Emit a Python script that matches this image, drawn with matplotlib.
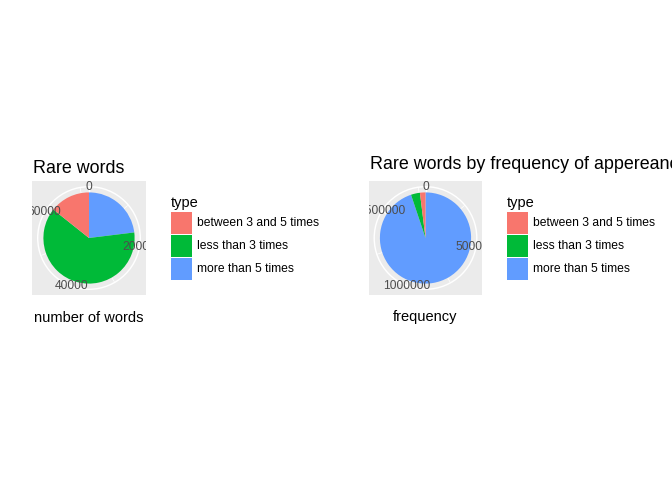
import numpy as np
import matplotlib
matplotlib.use("Agg")
import matplotlib.pyplot as plt
from matplotlib.patches import Circle, Rectangle

plt.rcParams['font.family'] = ['Liberation Sans', 'DejaVu Sans']

# data
types = ["between 3 and 5 times", "less than 3 times", "more than 5 times"]
colors = ["#F8766D", "#00BA38", "#619CFF"]

words_counts = [10300, 45100, 16600]
words_breaks = [0, 20000, 40000, 60000]
words_labels = ["0", "20000", "40000", "60000"]

freq_counts = [35000, 57000, 1698000]
freq_breaks = [0, 500000, 1000000, 1500000]
freq_labels = ["0", "500000", "1000000", "1500000"]

W, H = 672, 480
fig = plt.figure(figsize=(7, 5), dpi=96)
fig.patch.set_facecolor("white")

GREY_TXT = "#4D4D4D"


def px_axes(x0, y0, w, h):
    return fig.add_axes([x0 / W, 1 - (y0 + h) / H, w / W, h / H])


def polar_pie(x0, y0, counts, breaks, labels):
    ax = px_axes(x0, y0, 114, 114)
    total = float(sum(counts))
    # ggplot stacks the first level on top: draw from last to first, clockwise
    vals = counts[::-1]
    cols = colors[::-1]
    ax.pie(vals, colors=cols, startangle=90, counterclock=False, radius=0.4,
           center=(0, 0), frame=True, wedgeprops=dict(linewidth=0, zorder=3))
    ax.set_xlim(-0.5, 0.5)
    ax.set_ylim(-0.5, 0.5)
    ax.set_aspect("auto")
    ax.set_frame_on(True)
    ax.set_facecolor("#EBEBEB")
    for s in ax.spines.values():
        s.set_visible(False)
    ax.set_xticks([])
    ax.set_yticks([])

    # grid: outer circle and theta spokes
    ax.add_patch(Circle((0, 0), 0.45, fill=False, ec="white", lw=1.07, zorder=1))
    step = breaks[1] - breaks[0]
    minors = [b + step / 2 for b in breaks if b + step / 2 < total]
    for b in minors:
        th = 2 * np.pi * b / total
        ax.plot([0, 0.45 * np.sin(th)], [0, 0.45 * np.cos(th)], color="white",
                lw=0.53, zorder=1)
    for b in breaks:
        th = 2 * np.pi * b / total
        ax.plot([0, 0.45 * np.sin(th)], [0, 0.45 * np.cos(th)], color="white",
                lw=1.07, zorder=1)
    for b, lab in zip(breaks, labels):
        th = 2 * np.pi * b / total
        ax.text(0.45 * np.sin(th), 0.45 * np.cos(th), lab, ha="center",
                va="center", fontsize=9, color=GREY_TXT, clip_on=True,
                zorder=5)
    return ax


def legend_block(x0, ytitle):
    fig.text(x0 / W, 1 - ytitle / H, "type", fontsize=11, color="black",
             ha="left", va="baseline")
    key_tops = [212, 235, 258]
    for top, col, lab in zip(key_tops, colors, types):
        fig.patches.append(Rectangle(((x0 + 0.5) / W, 1 - (top + 21.5) / H),
                                     21 / W, 21.5 / H, transform=fig.transFigure,
                                     facecolor=col, edgecolor="none"))
        fig.text((x0 + 26.5) / W, 1 - (top + 11) / H, lab, fontsize=9.1,
                 color="black", ha="left", va="center")


# left plot
polar_pie(32, 181, words_counts, words_breaks, words_labels)
fig.text(33 / W, 1 - 173.3 / H, "Rare words", fontsize=13.4, ha="left",
         va="baseline")
fig.text(89 / W, 1 - 321.5 / H, "number of words", fontsize=11, ha="center",
         va="baseline")
legend_block(170.5, 207)

# right plot
polar_pie(368.5, 181, freq_counts, freq_breaks, freq_labels)
fig.text(369.5 / W, 1 - 169.3 / H, "Rare words by frequency of appereance",
         fontsize=13.4, ha="left", va="baseline")
fig.text(425.5 / W, 1 - 321.5 / H, "frequency", fontsize=11, ha="center",
         va="baseline")
legend_block(506.5, 207)

fig.savefig("out.png", dpi=96, facecolor="white")
